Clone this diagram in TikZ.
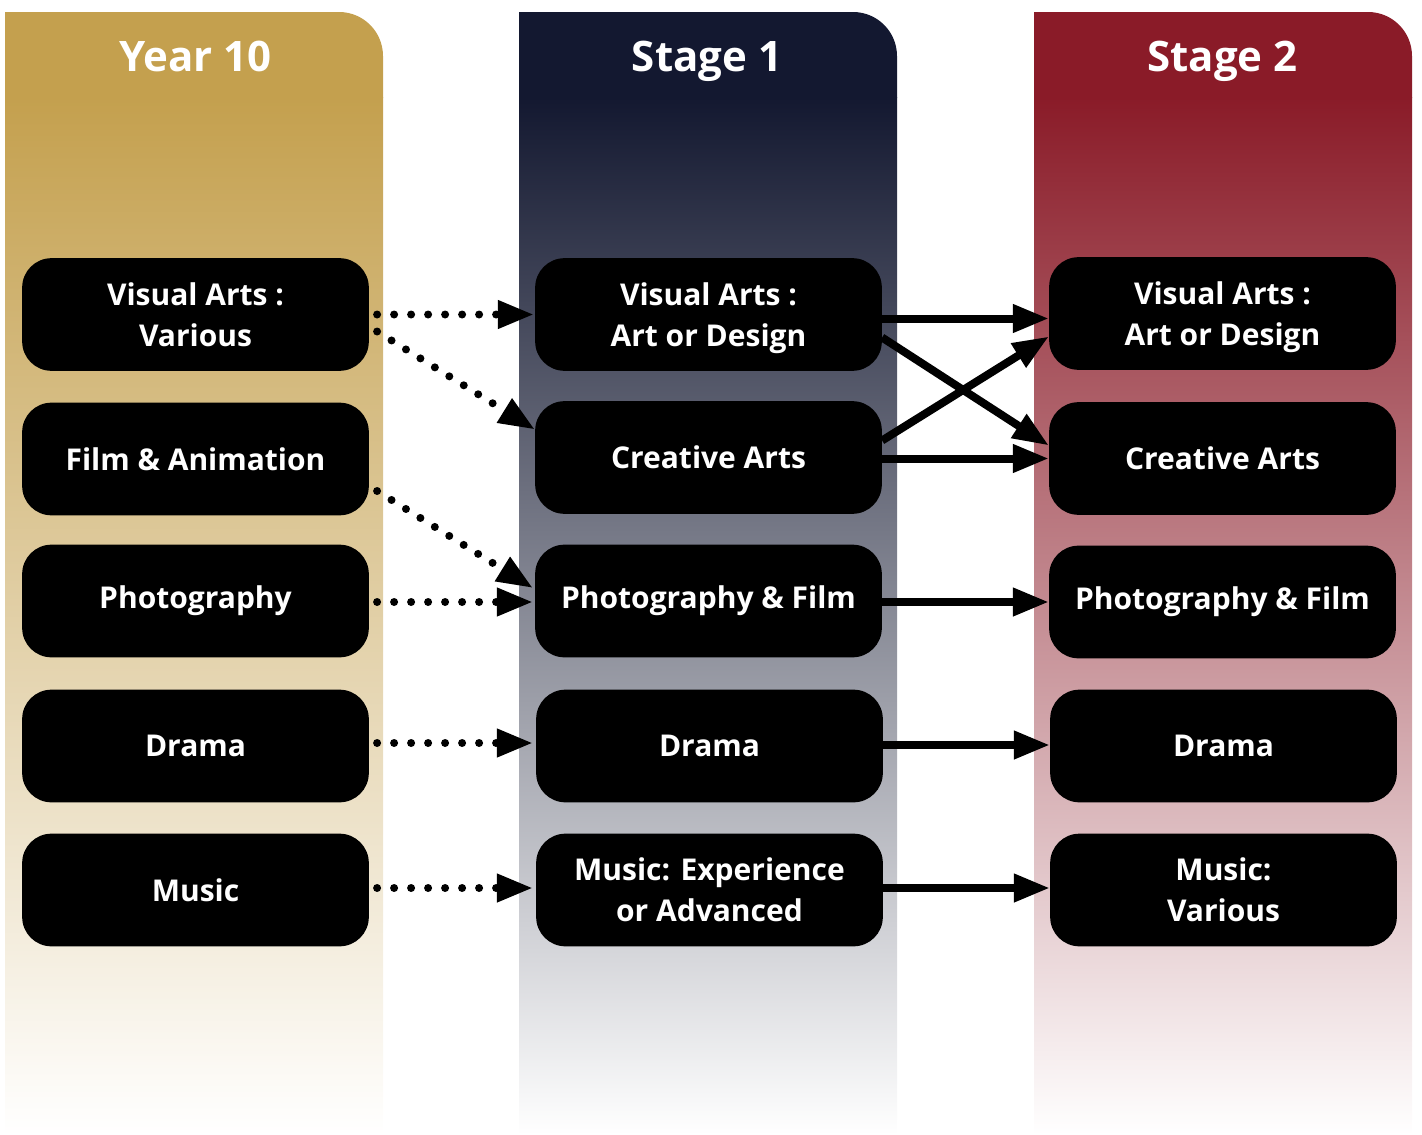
\documentclass[tikz,border=0pt]{standalone}
\usepackage{fontspec}
\setmainfont{Open Sans}
\usetikzlibrary{arrows.meta}
\definecolor{gold}{HTML}{C4A04E}
\definecolor{navy}{HTML}{131830}
\definecolor{maroon}{HTML}{8A1B28}
\begin{document}
\begin{tikzpicture}[x=0.75pt,y=-0.75pt,
  box/.style={fill=black, rounded corners=22pt, minimum width=260pt, minimum height=84.5pt,
    text=white, align=center, inner sep=0pt,
    font=\fontsize{22.5}{30.75}\selectfont\bfseries},
  head/.style={text=white, anchor=base, inner sep=0pt, font=\fontsize{31.5}{38}\selectfont\bfseries},
  dotarrow/.style={line width=6pt, line cap=round, dash pattern=on 0pt off 12.75pt,
    -{Triangle[length=27pt,width=20pt]}},
  solidarrow/.style={line width=6pt, -{Triangle[length=27pt,width=20pt]}}]
\useasboundingbox (0,0) rectangle (1422,1135);
% columns
\foreach \xa/\xb/\c in {5/383/gold, 519/897/navy, 1034/1412/maroon}{
  \fill[\c] (\xa,98) -- (\xa,12) -- ({\xb-44},12) arc[start angle=90,end angle=0,radius=33pt] -- (\xb,98) -- cycle;
  \shade[top color=\c, bottom color=white] (\xa,97) rectangle (\xb,1135);
}
\node[head] (h1) at (195.5,71.5) {Year 10};
\node[head] (h2) at (707,71.5) {Stage 1};
\node[head] (h3) at (1222.5,71.5) {Stage 2};
% Year 10
\node[box] (y1) at (195.5,314.5) {Visual Arts :\\Various};
\node[box] (y2) at (195.5,459) {Film \& Animation};
\node[box] (y3) at (195.5,601) {Photography};
\node[box] (y4) at (195.5,746) {Drama};
\node[box] (y5) at (195.5,890) {Music};
% Stage 1
\node[box] (a1) at (708.5,314.5) {Visual Arts :\\Art or Desi\smash{g}n};
\node[box] (a2) at (708.5,457.5) {Creative Arts};
\node[box] (a3) at (708.5,601) {Photography \& Film};
\node[box] (a4) at (709.5,746) {Drama};
\node[box] (a5) at (709.5,890) {Music: Experience\\or Advanced};
% Stage 2
\node[box] (b1) at (1222.5,313.5) {Visual Arts :\\Art or Desi\smash{g}n};
\node[box] (b2) at (1222.5,458.5) {Creative Arts};
\node[box] (b3) at (1222.5,602) {Photography \& Film};
\node[box] (b4) at (1223.5,746) {Drama};
\node[box] (b5) at (1223.5,890) {Music:\\Various};
% dotted connectors
\draw[dotarrow] ([shift={(8,0)}]y1.east) -- ([shift={(-1,0)}]a1.west);
\draw[dotarrow] ([shift={(8,17)}]y1.east) -- ([shift={(0,-28)}]a2.west);
\draw[dotarrow] ([shift={(8,32)}]y2.east) -- ([shift={(-2,-13)}]a3.west);
\draw[dotarrow] ([shift={(8,1)}]y3.east) -- ([shift={(-2,1)}]a3.west);
\draw[dotarrow] ([shift={(8,-3)}]y4.east) -- ([shift={(-3,-3)}]a4.west);
\draw[dotarrow] ([shift={(8,-2)}]y5.east) -- ([shift={(-3,-2)}]a5.west);
% solid connectors
\draw[solidarrow] ([shift={(0,4)}]a1.east) -- ([shift={(0,5)}]b1.west);
\draw[solidarrow] ([shift={(0,23)}]a1.east) -- ([shift={(0,-13)}]b2.west);
\draw[solidarrow] ([shift={(0,-17)}]a2.east) -- ([shift={(0,23)}]b1.west);
\draw[solidarrow] ([shift={(0,1)}]a2.east) -- ([shift={(0,0)}]b2.west);
\draw[solidarrow] ([shift={(0,1)}]a3.east) -- ([shift={(0,0)}]b3.west);
\draw[solidarrow] ([shift={(0,-1)}]a4.east) -- ([shift={(0,-1)}]b4.west);
\draw[solidarrow] ([shift={(0,-2)}]a5.east) -- ([shift={(0,-2)}]b5.west);
\end{tikzpicture}
\end{document}
